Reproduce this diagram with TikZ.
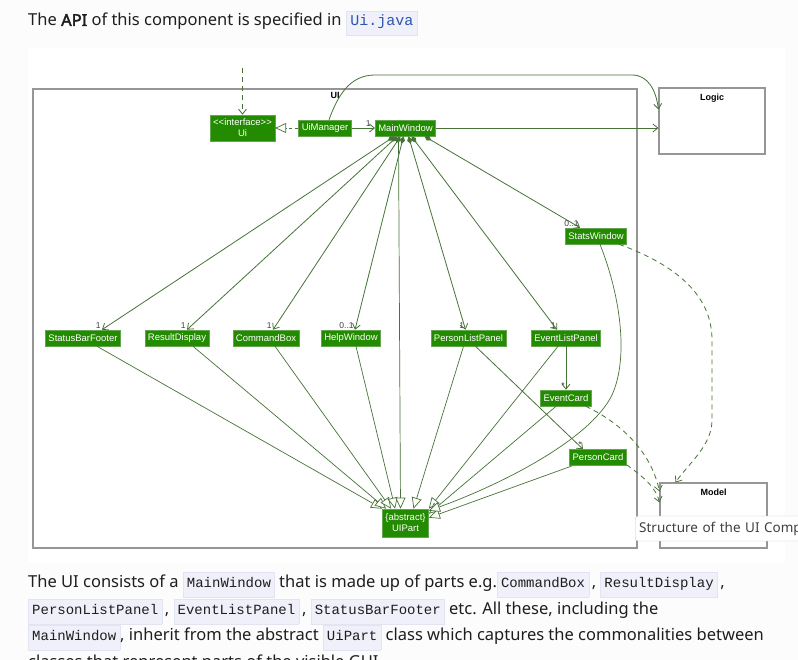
\documentclass[tikz,border=0pt]{standalone}
\usepackage{fontspec}
\setmainfont{Noto Sans}[AutoFakeBold=2.5]
\setmonofont{Liberation Mono}
\newfontfamily\umlfont{Liberation Sans}
\usetikzlibrary{arrows.meta}

\definecolor{pagebg}{RGB}{252,252,253}
\definecolor{partgreen}{RGB}{34,139,0}
\definecolor{partedge}{RGB}{100,165,80}
\definecolor{linkgreen}{RGB}{70,115,55}
\definecolor{framegray}{RGB}{150,150,150}
\definecolor{codebg}{RGB}{239,240,250}
\definecolor{codeedge}{RGB}{226,228,242}
\definecolor{codeblue}{RGB}{45,85,175}
\definecolor{prose}{RGB}{30,30,30}

\newcommand\code[1]{{\fboxsep=3.5pt\fboxrule=0.5pt\fcolorbox{codeedge}{codebg}{\rule[-6pt]{0pt}{17pt}\fontsize{14}{16}\ttfamily #1}}}
\newcommand\apicode[1]{{\fboxsep=4pt\fboxrule=0.5pt\fcolorbox{codeedge}{codebg}{\rule[-5pt]{0pt}{15pt}\fontsize{15}{18}\ttfamily\color{codeblue}#1}}}

\begin{document}
\begin{tikzpicture}[x=1pt,y=-1pt,
  part/.style={rectangle, fill=partgreen, draw=partedge, line width=0.6pt, text=white,
    font=\umlfont\fontsize{9.5}{11}\selectfont, minimum height=16pt,
    inner xsep=3pt, inner ysep=1pt, align=center},
  pkg/.style={rectangle, draw=framegray, line width=1.1pt, fill=white},
  pkglabel/.style={font=\umlfont\bfseries\fontsize{9}{10}\selectfont, anchor=north},
  mult/.style={font=\umlfont\fontsize{8.5}{9}\selectfont, text=black!75, inner sep=1pt},
  assoc/.style={draw=linkgreen, line width=0.8pt, -{Straight Barb[length=5pt,width=8pt]}},
  comp/.style={draw=linkgreen, line width=0.8pt, {Diamond[length=8pt,width=5pt]}-{Straight Barb[length=5pt,width=8pt]}},
  gen/.style={draw=linkgreen, line width=0.7pt, -{Triangle[open,length=11pt,width=10pt,fill=white]}},
  real/.style={gen, dashed},
  dep/.style={draw=linkgreen, line width=0.8pt, dash pattern=on 5pt off 4pt, -{Straight Barb[length=5pt,width=8pt]}},
  prosetext/.style={anchor=base west, inner sep=0pt, text=prose, font=\fontsize{16.5}{20}\selectfont}]

  % page and diagram panel
  \useasboundingbox (0,0) rectangle (798,660);
  \fill[pagebg] (0,0) rectangle (798,660);
  \fill[white] (28,48) rectangle (785,562);

  % text above and below
  \node[prosetext] (intro) at (28,26) {The \textbf{API} of this component is specified in \apicode{Ui.java}};
  \node[prosetext] (desc1) at (28,587) {The UI consists of a \code{MainWindow} that is made up of parts e.g.\code{CommandBox}\,, \code{ResultDisplay}\,,};
  \node[prosetext] (desc2) at (28,614) {\code{PersonListPanel}\,, \code{EventListPanel}\,, \code{StatusBarFooter} etc. All these, including the};
  \node[prosetext] (desc3) at (28,640) {\code{MainWindow}, inherit from the abstract \code{UiPart} class which captures the commonalities between};
  \node[prosetext] (desc4) at (28,667) {classes that represent parts of the visible GUI.};

  % packages
  \node[pkg, minimum width=604pt, minimum height=459pt, label={[pkglabel]north:UI}] (uipkg) at (335,318.5) {};
  \node[pkg, minimum width=106pt, minimum height=66pt, label={[pkglabel, yshift=-3pt]north:Logic}] (lgc) at (712,121) {};
  \node[pkg, minimum width=107pt, minimum height=65pt, label={[pkglabel, yshift=-3pt]north:Model}] (mdl) at (713.5,515.5) {};

  % classes
  \node[part, minimum width=63pt, minimum height=26pt] (ui) at (242.5,128) {<<interface>>\\Ui};
  \node[part] (uim) at (325,128) {UiManager};
  \node[part] (mw) at (405.5,128) {MainWindow};
  \node[part] (sw) at (596,236) {StatsWindow};
  \node[part] (sbf) at (83,338) {StatusBarFooter};
  \node[part] (rd) at (177,338) {ResultDisplay};
  \node[part] (cb) at (266,338) {CommandBox};
  \node[part] (hw) at (351,338) {HelpWindow};
  \node[part] (plp) at (468.5,338) {PersonListPanel};
  \node[part] (elp) at (566,338) {EventListPanel};
  \node[part] (ec) at (566,398) {EventCard};
  \node[part] (pc) at (598,457.5) {PersonCard};
  \node[part, minimum width=45pt, minimum height=28pt] (uip) at (405.5,523) {\{abstract\}\\UIPart};

  % uses from outside, realisation, logic
  \coordinate (uitop) at (242.5,68);
  \draw[dep] (uitop) -- (ui.north);
  \draw[real] (uim.west) -- (ui.east);
  \draw[assoc] (uim.east) -- (mw.west) node[mult, at end, anchor=south east, xshift=-3pt] {1};
  \draw[assoc] (mw.east) -- (mw.east -| lgc.west);
  \draw[assoc] ([xshift=4pt]uim.north) .. controls (338,95) and (350,75) .. (375,75)
    -- (632,75) .. controls (648,75) and (656,90) .. ([yshift=-22pt]lgc.north west);

  % parts of the main window
  \draw[comp] ([xshift=-11pt]mw.south) -- ([xshift=19pt]sbf.north) node[mult, at end, anchor=south east] {1};
  \draw[comp] ([xshift=-8pt]mw.south) -- ([xshift=10pt]rd.north) node[mult, at end, anchor=south east] {1};
  \draw[comp] ([xshift=-5pt]mw.south) -- ([xshift=7pt]cb.north) node[mult, at end, anchor=south east] {1};
  \draw[comp] ([xshift=-2pt]mw.south) -- ([xshift=4pt]hw.north) node[mult, at end, anchor=south east] {0..1};
  \draw[comp] ([xshift=3pt]mw.south) -- ([xshift=-3pt]plp.north) node[mult, at end, anchor=south east] {1};
  \draw[comp] ([xshift=6pt]mw.south) -- ([xshift=-9pt]elp.north) node[mult, at end, anchor=south east] {1};
  \draw[comp] ([xshift=19pt]mw.south) -- ([xshift=-16pt]sw.north) node[mult, at end, anchor=south east] {0..1};
  \draw[assoc] (elp.south) -- (ec.north) node[mult, at end, anchor=south east] {*};
  \draw[assoc] ([xshift=7pt]plp.south) -- ([xshift=-15pt]pc.north) node[mult, at end, anchor=south east] {*};

  % all parts inherit from UIPart
  \draw[gen] ([xshift=14pt]sbf.south) -- (uip.north west);
  \draw[gen] ([xshift=16pt]rd.south) -- ([xshift=4pt]uip.north west);
  \draw[gen] ([xshift=9pt]cb.south) -- ([xshift=9pt]uip.north west);
  \draw[gen] ([xshift=5pt]hw.south) -- ([xshift=13pt]uip.north west);
  \draw[gen] ([xshift=-7pt]mw.south) -- ([xshift=-5pt]uip.north);
  \draw[gen] ([xshift=-5pt]plp.south) -- ([xshift=8pt]uip.north);
  \draw[gen] ([xshift=-8pt]elp.south) -- (uip.north east);
  \draw[gen] ([xshift=-10pt]ec.south) -- ([yshift=-5pt]uip.north east);
  \draw[gen] ([xshift=3pt]pc.south west) -- ([yshift=-9pt]uip.north east);
  \draw[gen] ([xshift=4pt]sw.south) .. controls (622,300) and (628,360) .. (612,395)
    .. controls (590,440) and (500,485) .. ([yshift=-2pt]uip.north east);

  % dependencies on the model
  \draw[dep] ([xshift=-8pt]sw.south east) .. controls (690,270) and (712,305) .. (712,340)
    -- (712,420) .. controls (712,445) and (690,462) .. ([xshift=16pt]mdl.north west);
  \draw[dep] ([xshift=-6pt]ec.south east) .. controls (625,425) and (652,455) .. ([yshift=-9pt]mdl.north west);
  \draw[dep] ([yshift=1pt]pc.south east) .. controls (645,478) and (656,488) .. ([yshift=-20pt]mdl.north west);

  % tooltip
  \node[draw=black!22, fill=white, rounded corners=3pt, anchor=west, inner xsep=4pt,
    minimum height=25pt, text width=170pt, font=\fontsize{13.5}{15}\selectfont, text=black!75]
    (tip) at (635,528.5) {Structure of the UI Comp};
\end{tikzpicture}
\end{document}
